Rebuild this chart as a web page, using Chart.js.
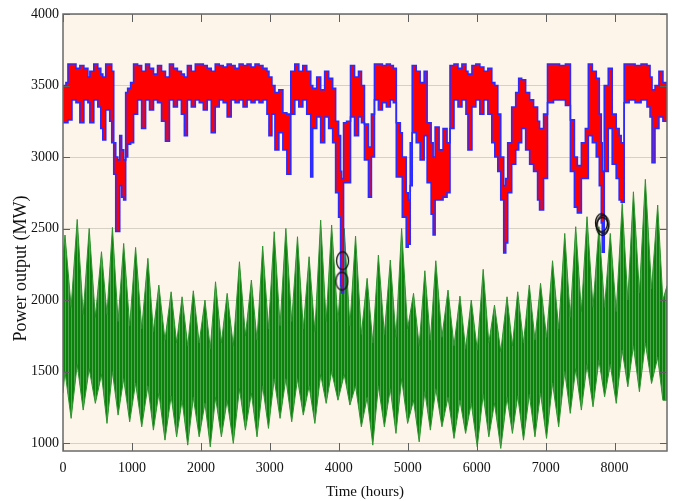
<!DOCTYPE html>
<html>
<head>
<meta charset="utf-8">
<script src="https://cdn.jsdelivr.net/npm/chart.js@4.4.1/dist/chart.umd.min.js"></script>
<style>
    html, body { margin: 0; padding: 0; background: #ffffff; }
    #myLineChart { display: block; }
</style>
</head>
<body>
<canvas id="myLineChart" width="678" height="501"></canvas>
<script>
var X_TICKS = [0, 1000, 2000, 3000, 4000, 5000, 6000, 7000, 8000];
var Y_TICKS = [1000, 1500, 2000, 2500, 3000, 3500, 4000];

// upper (red / blue) series: hour, band top, band bottom
var redHours = [0, 43, 72, 130, 188, 245, 303, 361, 390, 447, 505, 548, 577, 620, 678, 707, 736, 765, 794, 823,
    851, 880, 909, 938, 981, 1024, 1082, 1140, 1198, 1255, 1313, 1371, 1429, 1486, 1544, 1602, 1659, 1717, 1760, 1804,
    1861, 1919, 1977, 2035, 2092, 2150, 2208, 2266, 2323, 2381, 2439, 2496, 2554, 2612, 2670, 2727, 2785, 2843, 2900, 2958,
    2987, 3030, 3074, 3131, 3189, 3247, 3304, 3362, 3420, 3478, 3535, 3593, 3622, 3680, 3737, 3795, 3853, 3911, 3954, 3997,
    4026, 4040, 4069, 4113, 4170, 4228, 4286, 4329, 4372, 4430, 4473, 4517, 4574, 4632, 4690, 4747, 4791, 4834, 4892, 4921,
    4978, 5007, 5036, 5065, 5123, 5180, 5238, 5281, 5339, 5368, 5397, 5455, 5512, 5570, 5613, 5671, 5729, 5786, 5844, 5873,
    5931, 5988, 6046, 6104, 6162, 6219, 6263, 6306, 6349, 6392, 6421, 6450, 6508, 6566, 6609, 6652, 6710, 6768, 6825, 6883,
    6912, 6970, 7027, 7114, 7201, 7287, 7359, 7417, 7460, 7518, 7576, 7619, 7677, 7734, 7778, 7807, 7821, 7850, 7908, 7965,
    8023, 8066, 8095, 8139, 8211, 8297, 8384, 8470, 8514, 8543, 8586, 8643, 8701, 8760];
var redHigh = [3500, 3520, 3650, 3650, 3620, 3640, 3620, 3560, 3600, 3650, 3620, 3580, 3560, 3650, 3650, 3600, 3100, 3000, 2980, 3150,
    3050, 2980, 3450, 3480, 3520, 3650, 3640, 3600, 3650, 3620, 3580, 3640, 3600, 3560, 3650, 3620, 3600, 3580, 3560, 3640,
    3600, 3650, 3650, 3640, 3620, 3600, 3650, 3640, 3630, 3650, 3640, 3620, 3650, 3640, 3650, 3630, 3650, 3640, 3620, 3600,
    3560, 3500, 3450, 3470, 3310, 3300, 3600, 3650, 3600, 3640, 3600, 3500, 3480, 3560, 3470, 3600, 3550, 3480, 3250, 3150,
    2900, 2850, 3240, 3250, 3640, 3560, 3600, 3500, 3230, 3070, 3300, 3650, 3650, 3640, 3650, 3640, 3620, 3240, 3170, 3000,
    2750, 2700, 3100, 3640, 3600, 3520, 3600, 3240, 3100, 3000, 3210, 3050, 3200, 3100, 3640, 3650, 3620, 3650, 3600, 3580,
    3640, 3650, 3630, 3600, 3620, 3520, 3500, 3300, 3000, 2800, 2850, 3100, 3350, 3450, 3550, 3540, 3450, 3400, 3350, 3250,
    3200, 3300, 3650, 3650, 3640, 3650, 3260, 3000, 2940, 3100, 3200, 3650, 3600, 3550, 3300, 3100, 2900, 3500, 3620, 3300,
    3200, 3150, 3100, 3650, 3650, 3640, 3650, 3640, 3560, 3470, 3500, 3600, 3520, 3480];
var redLow = [3240, 3240, 3260, 3400, 3380, 3240, 3400, 3380, 3240, 3400, 3350, 3200, 3120, 3330, 3250, 3100, 2880, 2480, 2480, 2800,
    2720, 2700, 3000, 3090, 3100, 3300, 3400, 3200, 3400, 3330, 3400, 3380, 3250, 3110, 3400, 3350, 3400, 3300, 3150, 3400,
    3350, 3400, 3380, 3330, 3400, 3170, 3350, 3400, 3380, 3280, 3400, 3380, 3400, 3350, 3400, 3380, 3400, 3380, 3400, 3300,
    3150, 3300, 3050, 3170, 3050, 2880, 3300, 3400, 3350, 3400, 3300, 2860, 3200, 3280, 3100, 3280, 3200, 3100, 2750, 2580,
    2100, 2050, 2820, 2820, 3280, 3150, 3280, 3240, 2980, 2720, 3000, 3400, 3330, 3380, 3350, 3400, 3380, 2860, 2860, 2580,
    2370, 2390, 2800, 3170, 3100, 2980, 3150, 2820, 2600, 2455, 2700, 2700, 2720, 2750, 3200, 3400, 3350, 3400, 3300, 3050,
    3350, 3400, 3300, 3400, 3300, 3100, 3000, 2900, 2700, 2330, 2400, 2750, 2950, 3050, 3100, 3200, 3050, 2950, 2900, 2700,
    2630, 2850, 3380, 3400, 3400, 3360, 2900, 2650, 2610, 2850, 2850, 3150, 3100, 3000, 2800, 2540, 2335, 2900, 3200, 2950,
    2850, 2700, 2685, 3380, 3400, 3380, 3400, 3350, 3280, 2960, 3200, 3280, 3250, 3250];

// lower (green) series, read week by week
var greenPeakHours = [29, 206, 380, 558, 717, 880, 1053, 1231, 1390, 1568, 1727, 1890, 2059,
    2212, 2381, 2559, 2732, 2896, 3063, 3232, 3401, 3569, 3737, 3896, 4079, 4243,
    4411, 4574, 4747, 4911, 5084, 5248, 5407, 5584, 5757, 5921, 6094, 6258, 6440, 6595,
    6763, 6926, 7100, 7277, 7436, 7600, 7773, 7937, 8110, 8273, 8446, 8625];
var greenPeaks = [2455, 2564, 2501, 2338, 2508, 2396, 2368, 2292, 2105, 2058, 2023, 2065, 2000,
    2128, 2047, 2268, 2140, 2378, 2478, 2501, 2443, 2303, 2559, 2525, 2501, 2448,
    2152, 2315, 2280, 2501, 2047, 2205, 2275, 2070, 2028, 2000, 2215, 1965, 2023, 2058,
    2105, 2117, 2275, 2466, 2513, 2583, 2513, 2466, 2676, 2757, 2844, 2664];
var greenPeakLows = [1500, 1550, 1520, 1480, 1500, 1450, 1420, 1400, 1350, 1330, 1300, 1320, 1280,
    1320, 1300, 1380, 1350, 1400, 1450, 1450, 1450, 1400, 1480, 1500, 1480, 1400,
    1320, 1400, 1380, 1450, 1300, 1360, 1380, 1320, 1300, 1280, 1340, 1280, 1320, 1330,
    1340, 1350, 1420, 1500, 1520, 1550, 1580, 1550, 1650, 1680, 1700, 1600];
var greenTroughHours = [118, 293, 469, 638, 799, 967, 1142, 1311, 1479, 1648, 1809, 1975, 2136,
    2297, 2470, 2646, 2814, 2980, 3148, 3317, 3485, 3653, 3817, 3988, 4161, 4327,
    4493, 4661, 4829, 4998, 5166, 5328, 5496, 5671, 5839, 6008, 6176, 6349, 6518, 6679,
    6845, 7013, 7189, 7357, 7518, 7687, 7855, 8024, 8192, 8360, 8536, 8700];
var greenTroughs = [1173, 1231, 1278, 1138, 1196, 1149, 1114, 1091, 1021, 1044, 986, 1044, 974,
    1044, 998, 1091, 1044, 1103, 1173, 1149, 1196, 1138, 1278, 1300, 1266, 1114,
    986, 1114, 1068, 1138, 1009, 1091, 1114, 1033, 1068, 974, 1044, 963, 1068, 1021,
    1044, 1033, 1114, 1208, 1231, 1254, 1324, 1278, 1394, 1359, 1417, 1300];
var greenTroughHighs = [1950, 1900, 1880, 1900, 1850, 1820, 1800, 1780, 1720, 1700, 1680, 1700, 1660,
    1700, 1680, 1750, 1720, 1800, 1820, 1850, 1800, 1780, 1850, 1850, 1820, 1760,
    1700, 1760, 1740, 1800, 1680, 1720, 1740, 1680, 1660, 1650, 1700, 1640, 1680, 1700,
    1720, 1740, 1800, 1880, 1920, 1950, 1950, 1920, 2000, 2050, 2080, 2000];
var greenStart = [2300, 1350];
var greenEnd = [2100, 1300];

// marked points
var markHours = [4055, 4045, 7810, 7822, 7832];
var markValues = [2275, 2133, 2540, 2515, 2530];

var FONT = 'Liberation Serif, Times New Roman, serif';

function pairs(xs, ys) {
    return xs.map(function (x, i) {
        return {x: x, y: ys[i]};
    });
}

// envelope of the green band: weekly peak, then the mid-week trough
function greenEdge(atPeaks, atTroughs, startValue, endValue) {
    var result = [{x: 0, y: startValue}],
        i;

    for (i = 0; i < greenPeakHours.length; i++) {
        result.push({x: greenPeakHours[i], y: atPeaks[i]});
        result.push({x: greenTroughHours[i], y: atTroughs[i]});
    }
    result.push({x: 8760, y: endValue});
    return result;
}

function stripePattern() {
    var c = document.createElement('canvas'),
        ctx = c.getContext('2d');

    c.width = 3;
    c.height = 4;
    ctx.fillStyle = '#0b820b';
    ctx.fillRect(0, 0, 2, 4);
    ctx.fillStyle = '#52a352';
    ctx.fillRect(2, 0, 1, 4);
    return document.getElementById('myLineChart').getContext('2d').createPattern(c, 'repeat');
}

function ellipseMarker() {
    var c = document.createElement('canvas'),
        ctx = c.getContext('2d');

    c.width = 15;
    c.height = 21;
    ctx.strokeStyle = '#111111';
    ctx.lineWidth = 1.3;
    ctx.beginPath();
    ctx.ellipse(7.5, 10.5, 6, 9, 0, 0, Math.PI * 2);
    ctx.stroke();
    return c;
}

function plainLabel(value) {
    return String(value);
}

var framePlugin = {
    id: 'frame',
    beforeDraw: function (chart) {
        var a = chart.chartArea,
            ctx = chart.ctx;
        ctx.save();
        ctx.fillStyle = '#fdf5ea';
        ctx.fillRect(a.left, a.top, a.right - a.left, a.bottom - a.top);
        ctx.restore();
    },
    afterDraw: function (chart) {
        var a = chart.chartArea,
            ctx = chart.ctx,
            xs = chart.scales.x,
            ys = chart.scales.y;

        ctx.save();
        ctx.strokeStyle = '#5e5e5e';
        ctx.lineWidth = 1;
        X_TICKS.forEach(function (v) {
            var px = Math.round(xs.getPixelForValue(v)) + 0.5;
            ctx.beginPath();
            ctx.moveTo(px, a.bottom);
            ctx.lineTo(px, a.bottom - 8);
            ctx.moveTo(px, a.top);
            ctx.lineTo(px, a.top + 8);
            ctx.stroke();
        });
        Y_TICKS.forEach(function (v) {
            var py = Math.round(ys.getPixelForValue(v)) + 0.5;
            ctx.beginPath();
            ctx.moveTo(a.left, py);
            ctx.lineTo(a.left + 7, py);
            ctx.moveTo(a.right, py);
            ctx.lineTo(a.right - 7, py);
            ctx.stroke();
        });
        ctx.strokeStyle = '#6a6a6a';
        ctx.lineWidth = 1.5;
        ctx.strokeRect(a.left, a.top, a.right - a.left, a.bottom - a.top);
        ctx.restore();
    }
};

var createLine = function () {
    var marker = ellipseMarker();

    return new Chart(document.getElementById('myLineChart').getContext('2d'), {
        type: 'line',
        data: {
            datasets: [{
                data: pairs(markHours, markValues),
                showLine: false,
                pointStyle: marker,
                pointRadius: 10
            }, {
                data: pairs(redHours, redHigh),
                borderColor: '#2b2bff',
                borderWidth: 1.6,
                stepped: true,
                pointRadius: 0,
                fill: false
            }, {
                data: pairs(redHours, redLow),
                borderColor: '#2b2bff',
                borderWidth: 1.6,
                stepped: true,
                pointRadius: 0,
                backgroundColor: '#ff0000',
                fill: '-1'
            }, {
                data: greenEdge(greenPeaks, greenTroughHighs, greenStart[0], greenEnd[0]),
                borderColor: '#2f932f',
                borderWidth: 1,
                pointRadius: 0,
                fill: false
            }, {
                data: greenEdge(greenPeakLows, greenTroughs, greenStart[1], greenEnd[1]),
                borderColor: '#2f932f',
                borderWidth: 1,
                pointRadius: 0,
                backgroundColor: stripePattern(),
                fill: '-1'
            }]
        },
        options: {
            responsive: false,
            animation: false,
            layout: {padding: {top: 14, right: 9, left: 0, bottom: 0}},
            plugins: {
                legend: {display: false},
                tooltip: {enabled: false}
            },
            scales: {
                x: {
                    type: 'linear',
                    min: 0,
                    max: 8760,
                    afterBuildTicks: function (scale) {
                        scale.ticks = X_TICKS.map(function (v) { return {value: v}; });
                    },
                    afterFit: function (scale) { scale.height = 50; },
                    grid: {display: false, drawTicks: false},
                    border: {display: false},
                    ticks: {
                        autoSkip: false,
                        maxRotation: 0,
                        padding: 9,
                        color: '#111111',
                        font: {family: FONT, size: 14},
                        callback: plainLabel
                    },
                    title: {
                        display: true,
                        text: 'Time (hours)',
                        color: '#111111',
                        padding: 0,
                        font: {family: FONT, size: 15}
                    }
                },
                y: {
                    min: 945,
                    max: 4000,
                    afterBuildTicks: function (scale) {
                        scale.ticks = Y_TICKS.map(function (v) { return {value: v}; });
                    },
                    afterFit: function (scale) { scale.width = 63; },
                    grid: {color: 'rgba(120, 110, 100, 0.28)', lineWidth: 1, drawTicks: false},
                    border: {display: false},
                    ticks: {
                        padding: 4,
                        color: '#111111',
                        font: {family: FONT, size: 14},
                        callback: plainLabel
                    },
                    title: {
                        display: true,
                        // trailing no-break spaces push the label a little below centre, as in the original
                        text: 'Power output (MW)\u00a0\u00a0\u00a0\u00a0\u00a0\u00a0\u00a0\u00a0\u00a0\u00a0\u00a0\u00a0\u00a0\u00a0\u00a0\u00a0',
                        color: '#111111',
                        padding: {top: 10, bottom: 10},
                        font: {family: FONT, size: 18}
                    }
                }
            }
        },
        plugins: [framePlugin]
    });
};

createLine();
</script>
</body>
</html>
